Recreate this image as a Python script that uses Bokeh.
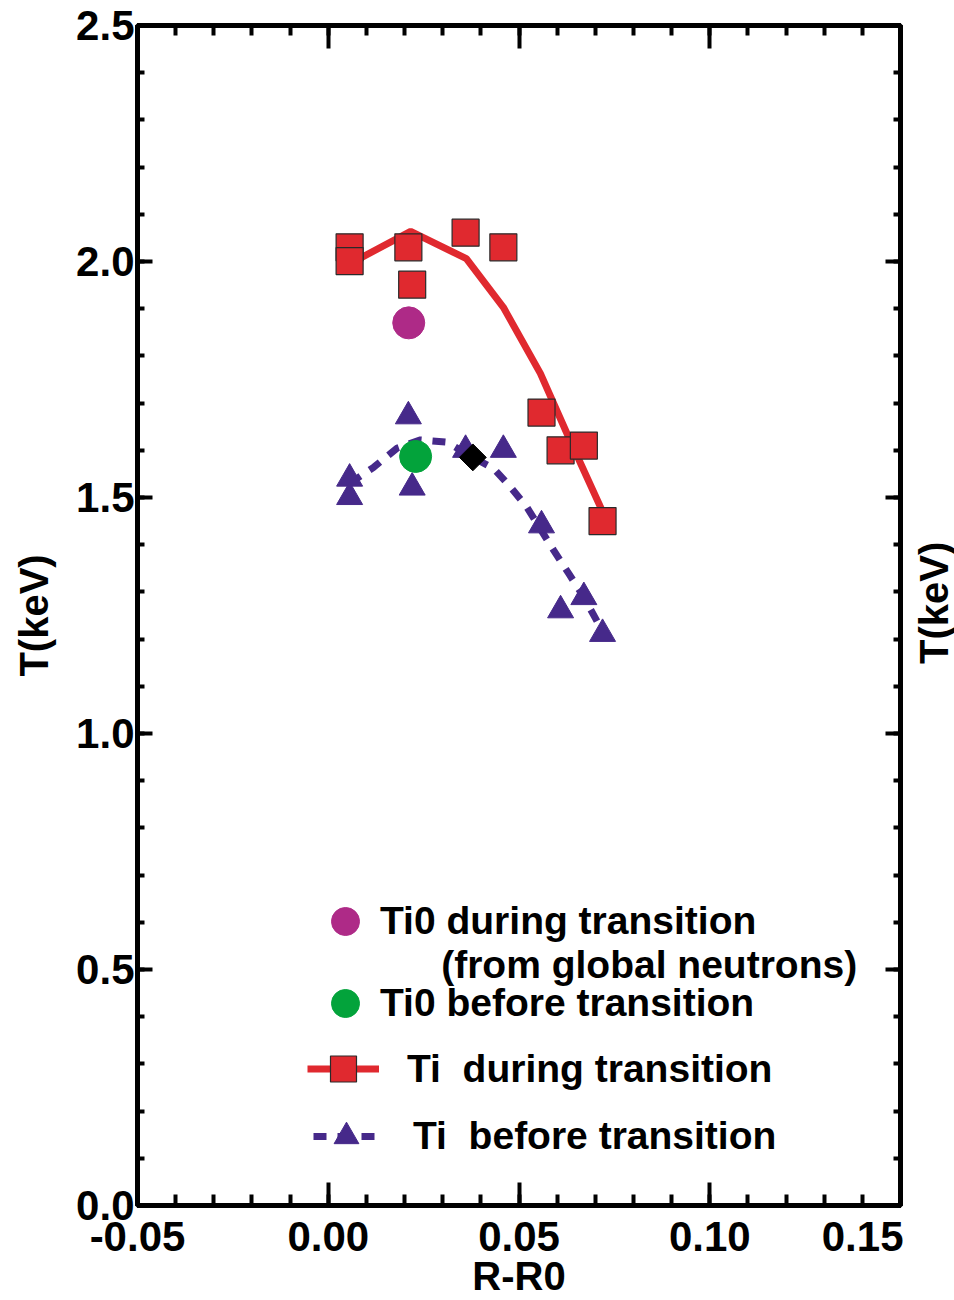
import math
import numpy as np
from bokeh.plotting import figure
from bokeh.layouts import row
from bokeh.models import (Range1d, LinearAxis, FixedTicker, PrintfTickFormatter,
                          Legend, LegendItem, Label)
from bokeh.embed import file_html
from bokeh.resources import INLINE

# ---------------- data ----------------
x_ticks = [-0.05, 0.00, 0.05, 0.10, 0.15]
x_minor = [round(v, 3) for v in np.arange(-0.05, 0.1501, 0.01)]
y_ticks = [0.0, 0.5, 1.0, 1.5, 2.0, 2.5]
y_minor = [round(v, 2) for v in np.arange(0.0, 2.501, 0.1)]

# Ti during transition (red squares)
r_ti_during = [0.0056, 0.0056, 0.0210, 0.0220, 0.0360, 0.0459, 0.0559, 0.0609, 0.0670, 0.0719]
t_ti_during = [2.030, 2.001, 2.030, 1.951, 2.061, 2.030, 1.680, 1.600, 1.610, 1.450]
# profile through Ti during transition (solid red line)
r_fit_during = [0.0056, 0.0216, 0.0362, 0.0459, 0.0556, 0.0626, 0.0718]
t_fit_during = [1.995, 2.064, 2.006, 1.903, 1.763, 1.635, 1.472]

# Ti before transition (purple triangles)
r_ti_before = [0.0056, 0.0056, 0.0210, 0.0220, 0.0360, 0.0459, 0.0559, 0.0609, 0.0670, 0.0719]
t_ti_before = [1.540, 1.501, 1.672, 1.521, 1.601, 1.601, 1.441, 1.261, 1.289, 1.211]
# profile through Ti before transition (dashed purple line)
r_fit_before = [0.0056, 0.0119, 0.0181, 0.0242, 0.0312, 0.0379, 0.0434, 0.0478,
                0.0521, 0.0591, 0.0631, 0.0670, 0.0718]
t_fit_before = [1.530, 1.564, 1.605, 1.622, 1.617, 1.585, 1.561, 1.522,
                1.479, 1.388, 1.338, 1.289, 1.218]

# central ion temperatures
r_ti0_during = [0.0211]
t_ti0_during = [1.870]
r_ti0_before = [0.0229]
t_ti0_before = [1.587]
# black diamond
r_diamond = [0.0379]
t_diamond = [1.585]

# ---------------- style ----------------
RED = "#e0292f"
PURPLE = "#46298a"
MAGENTA = "#ae2a87"
GREEN = "#03a33b"
FONT = "Liberation Sans"

W_MAIN, W_SIDE, H = 903, 51, 1300
p = figure(width=W_MAIN, height=H, output_backend="svg", toolbar_location=None,
           x_range=Range1d(-0.05, 0.15), y_range=Range1d(0, 2.5),
           min_border_left=137, min_border_right=3, min_border_top=25,
           min_border_bottom=95, background_fill_color="white",
           border_fill_color="white")
p.xgrid.visible = False
p.ygrid.visible = False
p.outline_line_color = "black"
p.outline_line_width = 5


def style_axis(ax, major_in, minor_in, ticks, minor):
    ax.ticker = FixedTicker(ticks=ticks, minor_ticks=minor)
    ax.axis_line_width = 5
    ax.axis_line_color = "black"
    ax.major_tick_in = major_in
    ax.major_tick_out = 0
    ax.minor_tick_in = minor_in
    ax.minor_tick_out = 0
    ax.major_tick_line_width = 4
    ax.minor_tick_line_width = 4
    ax.major_label_text_font = FONT
    ax.major_label_text_font_style = "bold"
    ax.major_label_text_font_size = "42px"
    ax.major_label_text_color = "black"


def style_title(ax, standoff):
    ax.axis_label_text_font = FONT
    ax.axis_label_text_font_style = "bold"
    ax.axis_label_text_font_size = "40px"
    ax.axis_label_text_color = "black"
    ax.axis_label_standoff = standoff


xb = p.xaxis[0]
style_axis(xb, 23, 11, x_ticks, x_minor)
xb.formatter = PrintfTickFormatter(format="%.2f")
xb.major_label_standoff = 16
xb.axis_label = "R-R0"
style_title(xb, 0)

yl = p.yaxis[0]
style_axis(yl, 15, 7, y_ticks, y_minor)
yl.formatter = PrintfTickFormatter(format="%.1f")
yl.major_label_standoff = 3
yl.axis_label = "T(keV)"
style_title(yl, 17)

xt = LinearAxis()
style_axis(xt, 23, 10, x_ticks, x_minor)
xt.major_label_text_font_size = "1px"
xt.major_label_text_color = None
xt.major_label_standoff = 0
p.add_layout(xt, "above")

yr = LinearAxis()
style_axis(yr, 15, 7, y_ticks, y_minor)
yr.major_label_text_font_size = "1px"
yr.major_label_text_color = None
yr.major_label_standoff = 0
p.add_layout(yr, "right")

# ---------------- glyphs ----------------
line_during = p.line(r_fit_during, t_fit_during, line_color=RED, line_width=7)
line_before = p.line(r_fit_before, t_fit_before, line_color=PURPLE, line_width=7,
                     line_dash="13 11")
sq = p.scatter(r_ti_during, t_ti_during, marker="square", size=27,
               fill_color=RED, line_color="#2a2a2a", line_width=1.2)
tri = p.scatter(r_ti_before, t_ti_before, marker="triangle", size=26,
                fill_color=PURPLE, line_color=PURPLE)
mag = p.scatter(r_ti0_during, t_ti0_during, marker="circle", size=32,
                fill_color=MAGENTA, line_color=MAGENTA)
grn = p.scatter(r_ti0_before, t_ti0_before, marker="circle", size=32,
                fill_color=GREEN, line_color=GREEN)
dia = p.scatter(r_diamond, t_diamond, marker="square", angle=math.pi / 4, size=19,
                fill_color="black", line_color="black")


# ---------------- legends ----------------
def mk_legend(label, renderers, loc, gw, gh, standoff):
    return Legend(items=[LegendItem(label=label, renderers=renderers)],
                  location=loc, glyph_width=gw, glyph_height=gh,
                  label_standoff=standoff, padding=0, margin=0, spacing=0,
                  border_line_color=None, background_fill_alpha=0,
                  label_text_font=FONT, label_text_font_style="bold",
                  label_text_font_size="39px", label_text_color="black")


p.add_layout(mk_legend("Ti0 during transition", [mag], (173, 244), 70, 80, 0), "center")
p.add_layout(mk_legend("Ti0 before transition", [grn], (173, 162), 70, 80, 0), "center")
p.add_layout(mk_legend("Ti  during transition", [line_during, sq], (170, 104), 72, 65, 28), "center")
p.add_layout(mk_legend("Ti  before transition", [line_before, tri], (176, 38), 66, 62, 34), "center")

p.add_layout(Label(x=0.0296, y=0.511, text="(from global neutrons)",
                   text_font=FONT, text_font_style="bold", text_font_size="39px",
                   text_align="left", text_baseline="alphabetic", text_color="black"))

# ---------------- right-hand axis title (reads bottom-to-top) ----------------
side = figure(width=W_SIDE, height=H, output_backend="svg", toolbar_location=None,
              x_range=Range1d(0, W_SIDE), y_range=Range1d(0, H),
              x_axis_location=None, y_axis_location=None, min_border=0,
              background_fill_color="white", border_fill_color="white",
              outline_line_color=None)
side.xgrid.grid_line_color = None
side.ygrid.grid_line_color = None
side.add_layout(Label(x=30, y=H - 636, text="T(keV)", angle=math.pi / 2,
                      text_font=FONT, text_font_style="bold", text_font_size="40px",
                      text_align="center", text_baseline="middle", text_color="black"))

layout = row(p, side, spacing=0)

open("out.html", "w").write(file_html(layout, INLINE))
